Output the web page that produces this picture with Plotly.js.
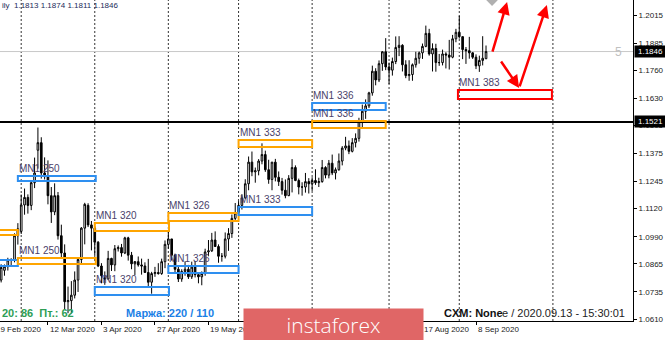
<!DOCTYPE html>
<html><head><meta charset="utf-8">
<script src="https://cdn.plot.ly/plotly-3.0.1.min.js"></script>
<style>html,body{margin:0;padding:0;background:#fff;}#chart{width:665px;height:340px;}</style>
</head><body><div id="chart"></div>
<script>
// EURUSD Daily, 20 Feb 2020 .. 11 Sep 2020 (bar index = trading day)
const open = [
1.0806,1.0790,1.0835,1.0852,1.0883,1.0881,1.0995,
1.1015,1.1137,1.1172,1.1135,1.1240,1.1390,1.1425,1.1285,1.1268,1.1180,1.1105,1.1180,1.0995,1.0915,1.0690,1.0695,1.0720,1.0790,1.0885,1.1030,1.1135,1.1045,
1.1030,1.0965,1.0855,1.0800,1.0795,1.0890,1.0860,1.0935,1.0940,1.0915,1.0985,1.0905,1.0865,1.0875,1.0860,1.0855,1.0825,1.0780,1.0820,1.0825,1.0820,1.0875,
1.0955,1.0980,1.0905,1.0840,1.0795,1.0830,1.0840,1.0805,1.0850,1.0815,1.0805,1.0820,1.0920,1.0925,1.0975,1.0945,1.0900,1.0900,1.0980,1.1005,1.1075,
1.1100,1.1135,1.1170,1.1235,1.1335,1.1290,1.1295,1.1340,1.1370,1.1300,1.1255,1.1335,1.1265,1.1245,1.1205,1.1180,1.1260,1.1310,1.1250,1.1220,1.1220,1.1245,
1.1235,1.1250,1.1240,1.1245,1.1310,1.1275,1.1330,1.1285,1.1300,1.1340,1.1400,1.1410,1.1385,1.1425,1.1445,1.1525,1.1570,1.1595,1.1655,1.1755,1.1715,1.1790,1.1845,
1.1775,1.1760,1.1800,1.1865,1.1875,1.1785,1.1735,1.1740,1.1785,1.1815,1.1840,1.1870,1.1930,1.1835,1.1860,1.1795,1.1795,1.1835,1.1830,1.1820,1.1905,
1.1935,1.1915,1.1855,1.1850,1.1840,1.1820,1.1780,1.1805,1.1813];
const high = [
1.0815,1.0863,1.0862,1.0893,1.0891,1.1006,1.1053,
1.1185,1.1213,1.1186,1.1248,1.1356,1.1495,1.1450,1.1357,1.1343,1.1220,1.1237,1.1197,1.1046,1.0955,1.0760,1.0785,1.0830,1.0887,1.1035,1.1147,1.1145,1.1063,
1.1040,1.0970,1.0868,1.0830,1.0925,1.0893,1.0952,1.0950,1.0957,1.0990,1.0990,1.0920,1.0878,1.0899,1.0889,1.0872,1.0888,1.0828,1.0851,1.0868,1.0889,1.0973,
1.1019,1.0980,1.0912,1.0858,1.0840,1.0876,1.0860,1.0875,1.0878,1.0817,1.0830,1.0935,1.0975,1.1008,1.1015,1.0955,1.0915,1.1010,1.1030,1.1093,1.1146,
1.1155,1.1187,1.1256,1.1361,1.1384,1.1310,1.1349,1.1422,1.1388,1.1346,1.1335,1.1350,1.1292,1.1262,1.1255,1.1275,1.1349,1.1320,1.1259,1.1242,1.1285,1.1261,
1.1265,1.1302,1.1263,1.1345,1.1316,1.1345,1.1370,1.1310,1.1375,1.1409,1.1452,1.1435,1.1446,1.1468,1.1540,1.1601,1.1625,1.1660,1.1781,1.1769,1.1805,1.1848,1.1908,
1.1795,1.1818,1.1916,1.1917,1.1880,1.1806,1.1806,1.1791,1.1845,1.1846,1.1883,1.1966,1.1951,1.1884,1.1882,1.1835,1.1855,1.1843,1.1900,1.1923,1.1951,
1.2011,1.1915,1.1867,1.1914,1.1843,1.1833,1.1827,1.1917,1.1874];
const low = [
1.0778,1.0779,1.0810,1.0834,1.0853,1.0872,1.0954,
1.1003,1.1092,1.1097,1.1113,1.1215,1.1305,1.1259,1.1255,1.1140,1.1054,1.1090,1.0977,1.0888,1.0654,1.0637,1.0636,1.0705,1.0735,1.0866,1.0955,1.1035,1.0927,
1.0905,1.0850,1.0775,1.0768,1.0793,1.0832,1.0831,1.0922,1.0898,1.0910,1.0880,1.0840,1.0813,1.0852,1.0815,1.0825,1.0757,1.0727,1.0805,1.0815,1.0814,1.0845,
1.0935,1.0880,1.0825,1.0781,1.0782,1.0810,1.0795,1.0795,1.0802,1.0775,1.0766,1.0810,1.0900,1.0920,1.0944,1.0870,1.0875,1.0890,1.0925,1.0985,1.1067,
1.1080,1.1116,1.1164,1.1205,1.1270,1.1240,1.1274,1.1325,1.1290,1.1235,1.1205,1.1246,1.1225,1.1185,1.1168,1.1178,1.1195,1.1247,1.1186,1.1180,1.1194,1.1190,
1.1202,1.1230,1.1220,1.1240,1.1260,1.1260,1.1275,1.1255,1.1295,1.1320,1.1390,1.1372,1.1380,1.1403,1.1430,1.1497,1.1535,1.1585,1.1642,1.1690,1.1705,1.1757,1.1760,
1.1696,1.1735,1.1788,1.1825,1.1754,1.1723,1.1711,1.1711,1.1772,1.1790,1.1812,1.1866,1.1827,1.1754,1.1753,1.1780,1.1782,1.1768,1.1763,1.1815,1.1889,
1.1906,1.1811,1.1789,1.1813,1.1812,1.1765,1.1752,1.1782,1.1811];
const close = [
1.0790,1.0848,1.0852,1.0883,1.0881,1.0995,1.1027,
1.1137,1.1172,1.1135,1.1240,1.1285,1.1425,1.1285,1.1268,1.1180,1.1105,1.1180,1.0995,1.0915,1.0690,1.0695,1.0720,1.0790,1.0885,1.1030,1.1140,1.1045,1.1030,
1.0965,1.0855,1.0810,1.0795,1.0890,1.0860,1.0935,1.0940,1.0915,1.0985,1.0905,1.0865,1.0875,1.0860,1.0855,1.0825,1.0780,1.0820,1.0825,1.0820,1.0875,1.0955,
1.0980,1.0905,1.0840,1.0795,1.0830,1.0840,1.0805,1.0850,1.0815,1.0805,1.0820,1.0920,1.0925,1.0975,1.0945,1.0900,1.0900,1.0980,1.1005,1.1075,1.1100,
1.1135,1.1170,1.1235,1.1335,1.1290,1.1295,1.1340,1.1370,1.1300,1.1255,1.1335,1.1265,1.1245,1.1205,1.1180,1.1260,1.1310,1.1250,1.1220,1.1220,1.1245,1.1235,
1.1250,1.1240,1.1245,1.1310,1.1275,1.1330,1.1285,1.1300,1.1340,1.1400,1.1410,1.1385,1.1425,1.1445,1.1525,1.1570,1.1595,1.1655,1.1755,1.1715,1.1790,1.1845,1.1775,
1.1760,1.1800,1.1865,1.1875,1.1785,1.1735,1.1740,1.1785,1.1815,1.1840,1.1870,1.1930,1.1835,1.1860,1.1795,1.1795,1.1835,1.1830,1.1820,1.1905,1.1935,
1.1915,1.1855,1.1850,1.1840,1.1820,1.1780,1.1805,1.1815,1.1846];

// x-axis labels (bar index of each label); those under the banner are hidden in the reference
const tickIdx  = [-1, 15, 31, 47, 63, 79, 95, 111, 127, 143];
const tickText = ['19 Feb 2020','12 Mar 2020','3 Apr 2020','27 Apr 2020','19 May 2020',
                  '10 Jun 2020','2 Jul 2020','24 Jul 2020','17 Aug 2020','8 Sep 2020'];
// price scale labels
const priceTicks = [1.2015,1.1885,1.1760,1.1630,1.1505,1.1375,1.1245,1.1120,1.0990,1.0865,1.0735,1.0610];
// month separators (bar index)
const separators = [7, 29, 51, 72, 94, 117, 138, 166];
// levels
const bidPrice = 1.1846;
const levelPrice = 1.1521;
const ohlcHeader = [1.1813, 1.1874, 1.1811, 1.1846];

// MN1 zones
const zoneLabel = ['', '', 'MN1 250', 'MN1 250', 'MN1 320', 'MN1 320', 'MN1 326', 'MN1 326', 'MN1 333', 'MN1 333', 'MN1 336', 'MN1 336', 'MN1 383'];
const zoneFrom  = [-6, -6, 6, 6, 29, 29, 51, 51, 72, 72, 94, 94, 137.6];
const zoneTo    = [6, 6, 29.3, 29.3, 51.2, 51.2, 72, 72, 94, 94, 116, 116, 165.7];
const zoneHi    = [1.1021, 1.0883, 1.1271, 1.0892, 1.1054, 1.0758, 1.1100, 1.0855, 1.1437, 1.1128, 1.1608, 1.1525, 1.1668];
const zoneLo    = [1.0998, 1.0855, 1.1248, 1.0864, 1.1017, 1.0721, 1.1063, 1.0823, 1.1405, 1.1091, 1.1576, 1.1493, 1.1627];
const zoneKind  = ['o', 'b', 'b', 'o', 'o', 'b', 'o', 'b', 'o', 'b', 'b', 'o', 'r'];

// forecast arrows [barIdx, price]
const arrowTail = [[147.8, 1.1839], [150.2, 1.1807], [155.9, 1.1678]];
const arrowHead = [[152.3, 1.2075], [155.9, 1.1678], [164.2, 1.2061]];

const xr = [0.66, 189.95];
const yr = [1.06008, 1.20843];
const pxW = 633, pxH = 321;
const toPaperX = v => (v - xr[0]) / (xr[1] - xr[0]);
const pxX = p => p / pxW;
const pxY = p => 1 - p / pxH;
const banner = {x0: 244, x1: 423};

const bars = open.map((_, i) => i);
const kindColor = {o: '#ffa500', b: '#2e8ff0', r: '#ff0000'};

const traces = [{
  type: 'candlestick', x: bars, open: open, high: high, low: low, close: close,
  increasing: {line: {color: '#000', width: 1}, fillcolor: '#ffffff'},
  decreasing: {line: {color: '#000', width: 1}, fillcolor: '#000000'},
  whiskerwidth: 0, hoverinfo: 'skip', showlegend: false
}, {
  type: 'scatter', mode: 'markers', x: [147.8], y: [1.2084],
  marker: {symbol: 'diamond', size: 9, color: '#b0b0b0'}, showlegend: false, hoverinfo: 'skip'
}];

const shapes = [];
separators.forEach(s => shapes.push({type: 'line', xref: 'x', yref: 'paper', x0: s, x1: s, y0: 0, y1: 1,
  line: {color: '#333', width: 1, dash: '2px,2px'}, layer: 'below'}));
shapes.push({type: 'line', xref: 'paper', yref: 'y', x0: 0, x1: 1, y0: bidPrice, y1: bidPrice,
  line: {color: '#c8c8c8', width: 1}, layer: 'below'});
shapes.push({type: 'line', xref: 'paper', yref: 'y', x0: 0, x1: 1, y0: levelPrice, y1: levelPrice,
  line: {color: '#000', width: 2}});
zoneLabel.forEach((lab, i) => shapes.push({type: 'rect', xref: 'x', yref: 'y',
  x0: zoneFrom[i], x1: zoneTo[i], y0: zoneLo[i], y1: zoneHi[i],
  line: {color: kindColor[zoneKind[i]], width: 2}, fillcolor: 'rgba(0,0,0,0)'}));

const ann = [];
zoneLabel.forEach((lab, i) => { if (lab) ann.push({xref: 'x', yref: 'y', x: zoneFrom[i], y: zoneHi[i],
  xanchor: 'left', yanchor: 'bottom', text: lab, showarrow: false, borderpad: 0, yshift: 1,
  font: {size: 10, color: '#4a3f6a'}}); });
ann.push({xref: 'paper', yref: 'paper', x: 0, y: 1, xanchor: 'left', yanchor: 'top', yshift: 1,
  text: 'ily\u00a0 ' + ohlcHeader.map(v => v.toFixed(4)).join(' '), showarrow: false, borderpad: 1,
  font: {size: 8, color: '#1d2b5a'}});
[bidPrice, levelPrice].forEach(p => ann.push({xref: 'paper', yref: 'y', x: 1, y: p,
  xanchor: 'left', yanchor: 'middle', text: p.toFixed(4), showarrow: false, bgcolor: '#000',
  borderpad: 1, width: 29, xshift: 1, font: {size: 8, color: '#fff'}}));
ann.push({xref: 'paper', yref: 'paper', x: pxX(624), y: pxY(43), text: '5', showarrow: false,
  font: {size: 12, color: '#c0c0c0'}});
ann.push({xref: 'paper', yref: 'paper', x: 0, y: pxY(313), xanchor: 'left', yanchor: 'middle',
  text: '<b>20: 86\u00a0 Пт.: 62</b>', showarrow: false, font: {size: 11, color: '#2e9e55'}});
ann.push({xref: 'paper', yref: 'paper', x: pxX(124), y: pxY(313), xanchor: 'left', yanchor: 'middle',
  text: '<b>Маржа: 220 / 110</b>', showarrow: false, font: {size: 11, color: '#1a7fe6'}});
ann.push({xref: 'paper', yref: 'paper', x: pxX(500), y: pxY(313), xanchor: 'left', yanchor: 'middle',
  text: 'e / 2020.09.13 - 15:30:01', showarrow: false, font: {size: 11, color: '#222'}});
ann.push({xref: 'paper', yref: 'paper', x: pxX(442), y: pxY(313), xanchor: 'left', yanchor: 'middle',
  text: '<b>CXM: None</b>', showarrow: false, font: {size: 11, color: '#111'}});
tickIdx.forEach((t, i) => {
  const px = toPaperX(t) * pxW;
  if (px > banner.x0 && px < banner.x1 - 5) return; // hidden under the banner
  ann.push({xref: 'paper', yref: 'paper', x: toPaperX(t), y: 0,
    xanchor: 'left', yanchor: 'top', yshift: -2, text: tickText[i], showarrow: false, borderpad: 1,
    font: {size: 8, color: '#222'}});
});
arrowTail.forEach((t, i) => ann.push({xref: 'x', yref: 'y', axref: 'x', ayref: 'y',
  x: arrowHead[i][0], y: arrowHead[i][1], ax: t[0], ay: t[1], text: '', showarrow: true,
  arrowhead: 2, arrowsize: 1, arrowwidth: 2.5, arrowcolor: '#ff0000', standoff: 0, startstandoff: 0}));
ann.push({xref: 'paper', yref: 'paper', x: pxX((banner.x0 + banner.x1) / 2), y: pxY(324.5), xanchor: 'center', yanchor: 'middle',
  width: banner.x1 - banner.x0, height: 31, bgcolor: '#e06666', borderpad: 0, text: 'instaforex', showarrow: false,
  font: {family: 'Open Sans', size: 21, color: '#ffffff', weight: 300}});

const layout = {
  width: 665, height: 340, margin: {l: 0, r: 32, t: 0, b: 19},
  paper_bgcolor: '#fff', plot_bgcolor: '#fff',
  font: {family: 'Liberation Sans, Arial, sans-serif', size: 8, color: '#222'},
  showlegend: false,
  xaxis: {type: 'linear', range: xr, showgrid: false, zeroline: false, showline: true, linecolor: '#000',
    linewidth: 1, ticks: 'outside', ticklen: 3, tickcolor: '#000', tickvals: tickIdx,
    showticklabels: false, rangeslider: {visible: false}, fixedrange: true},
  yaxis: {range: yr, side: 'right', showgrid: false, zeroline: false, showline: true, linecolor: '#000',
    linewidth: 1, ticks: 'outside', ticklen: 3, tickcolor: '#000', tickvals: priceTicks,
    ticktext: priceTicks.map(v => v.toFixed(4)), tickfont: {size: 8, color: '#222'}, fixedrange: true},
  shapes: shapes, annotations: ann
};
Plotly.newPlot('chart', traces, layout, {displayModeBar: false, staticPlot: true});
</script>
</body></html>
